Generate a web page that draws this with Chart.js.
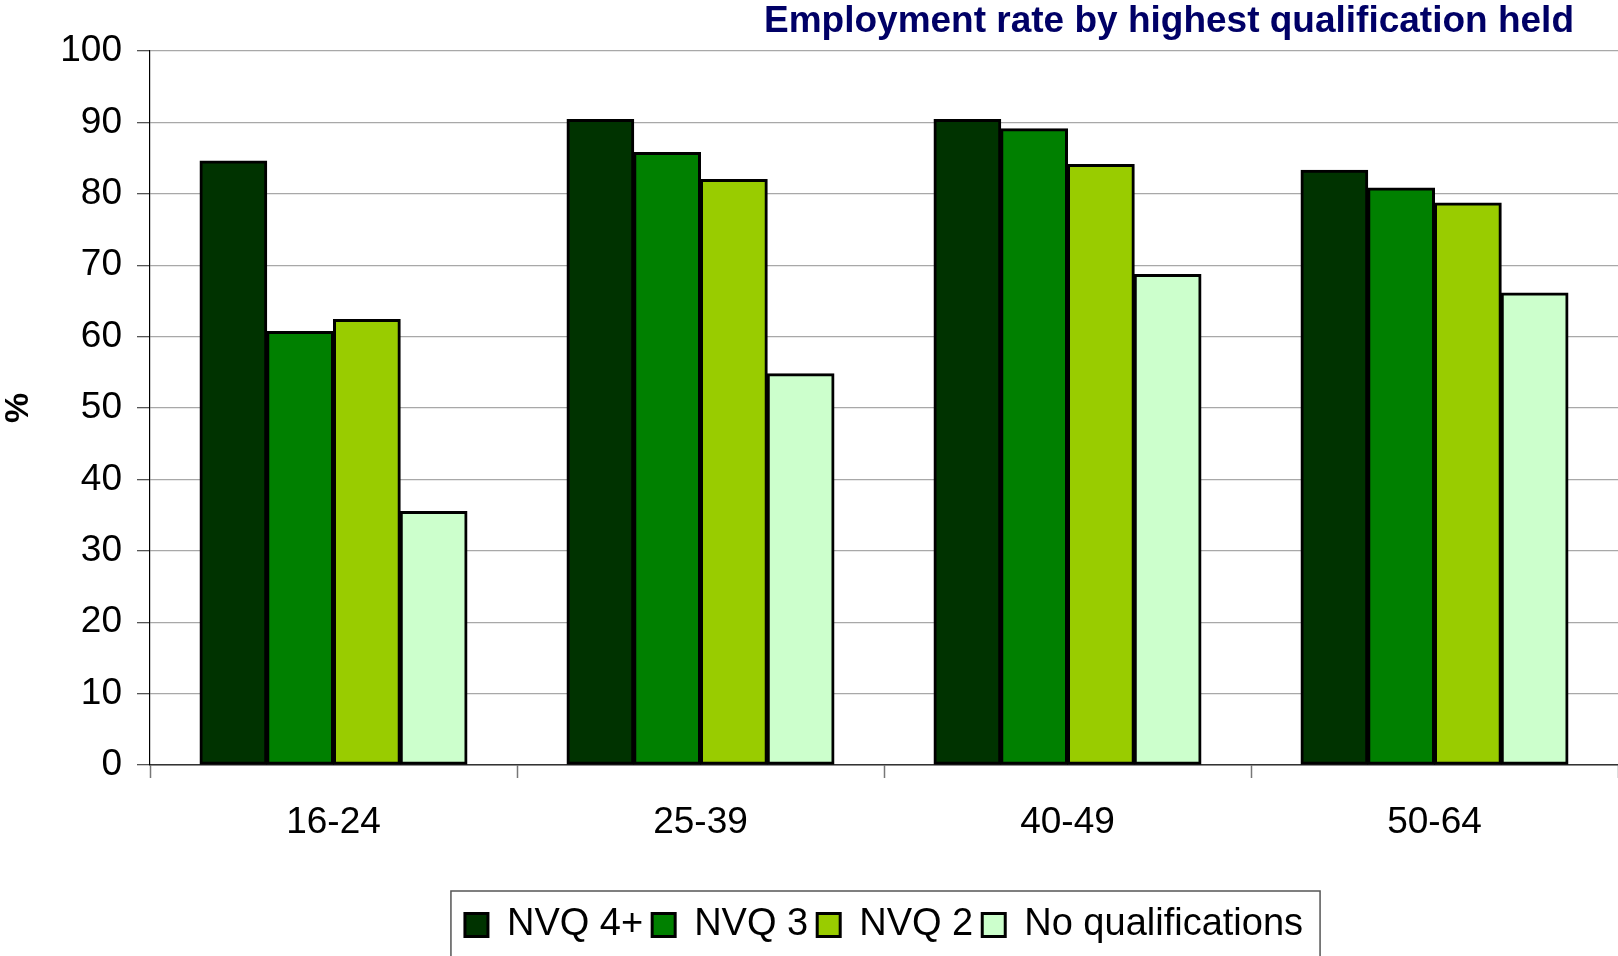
<!DOCTYPE html>
<html>
<head>
<meta charset="utf-8">
<script src="https://cdn.jsdelivr.net/npm/chart.js@4.4.0/dist/chart.umd.min.js"></script>
<style>
body { margin: 0; background: #fff; }
canvas { display: block; }
</style>
</head>
<body>
<canvas id="myChart" width="1618" height="956"></canvas>
<script>
const chartTitle = 'Employment rate by highest qualification held'
const ageGroups = ['16-24', '25-39', '40-49', '50-64']
const nvq4 = [84.6, 90.4, 90.4, 83.3]
const nvq3 = [60.7, 85.8, 89.1, 80.8]
const nvq2 = [62.4, 82.0, 84.1, 78.7]
const noQual = [35.5, 54.8, 68.7, 66.1]
const yTicks = [0, 10, 20, 30, 40, 50, 60, 70, 80, 90, 100]

const ctx = document.getElementById('myChart').getContext('2d')
const font = '"Liberation Sans", Arial, sans-serif'

function bars(label, data, color) {
    return {
        label: label,
        data: data,
        backgroundColor: color,
        borderColor: '#000',
        borderWidth: 3,
        borderSkipped: false,
        inflateAmount: 0.5,
        barPercentage: 1,
        categoryPercentage: 0.7275
    }
}

// title sits right of centre, not over the whole chart
const titlePlugin = {
    id: 'titlePlugin',
    afterDraw(chart) {
        let c = chart.ctx
        c.save()
        c.font = 'bold 37px ' + font
        c.fillStyle = '#000066'
        c.textAlign = 'right'
        c.textBaseline = 'middle'
        c.fillText(chartTitle, 1574, 22)
        c.restore()
    }
}

// legend is centred under the plot area, with a frame round it
const legendFrame = {
    id: 'legendFrame',
    afterLayout(chart) {
        chart.legend.left = chart.chartArea.left
        chart.legend.adjustHitBoxes()
    },
    afterDraw(chart) {
        let lg = chart.legend
        let boxes = lg.legendHitBoxes
        let first = boxes[0]
        let last = boxes[boxes.length - 1]
        let c = chart.ctx
        c.save()
        c.strokeStyle = '#555'
        c.lineWidth = 1.5
        c.strokeRect(first.left - 14, lg.top - 6, last.left + last.width - first.left + 31, chart.height)
        c.restore()
    }
}

let obj = {
    type: 'bar',
    data: {
        labels: ageGroups,
        datasets: [
            bars('NVQ 4+', nvq4, '#003300'),
            bars('NVQ 3', nvq3, '#008000'),
            bars('NVQ 2', nvq2, '#99CC00'),
            bars('No qualifications', noQual, '#CCFFCC')
        ]
    },
    options: {
        responsive: false,
        animation: false,
        layout: { padding: { top: 51, right: 0, bottom: 2, left: 0 } },
        plugins: {
            title: { display: false },
            tooltip: { enabled: false },
            legend: {
                position: 'bottom',
                labels: {
                    boxWidth: 23,
                    boxHeight: 23,
                    padding: 9,
                    color: '#000',
                    font: { family: font, size: 38 }
                }
            }
        },
        scales: {
            x: {
                grid: {
                    display: true,
                    drawOnChartArea: false,
                    tickLength: 13,
                    tickColor: '#777',
                    tickWidth: 1.5
                },
                border: { color: '#333', width: 1.5 },
                ticks: {
                    color: '#000',
                    padding: 23,
                    font: { family: font, size: 37 }
                },
                afterFit(scale) { scale.height = 132 }
            },
            y: {
                min: 0,
                max: 100,
                afterBuildTicks(scale) { scale.ticks = yTicks.map(v => ({ value: v })) },
                grid: {
                    color: '#a8a8a8',
                    lineWidth: 1.3,
                    tickLength: 13,
                    tickColor: '#555'
                },
                border: { color: '#000', width: 1.2 },
                ticks: {
                    color: '#000',
                    padding: 15,
                    font: { family: font, size: 37 }
                },
                title: {
                    display: true,
                    text: '%',
                    color: '#000',
                    padding: { top: 2, bottom: 0 },
                    font: { family: font, size: 34, weight: 'bold', lineHeight: 1 }
                },
                afterFit(scale) { scale.width = 150 }
            }
        }
    },
    plugins: [titlePlugin, legendFrame]
}
let myChart = new Chart(ctx, obj)
</script>
</body>
</html>
